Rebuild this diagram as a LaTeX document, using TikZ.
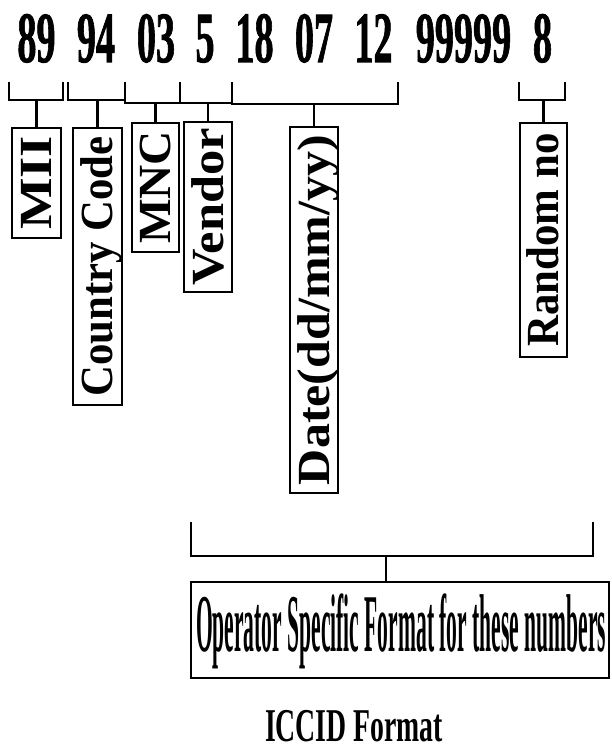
\documentclass[tikz,border=0pt]{standalone}
\usepackage{fontspec}
\setmainfont{Liberation Serif}
\newfontfamily\heavyserif[FakeBold=1.5]{Liberation Serif Bold}
\usepackage{graphicx}
\begin{document}
\begin{tikzpicture}[x=1pt,y=1pt,
  ln/.style={line width=2.6pt},
  num/.style={anchor=base, inner sep=0pt, font=\fontsize{72}{72}\heavyserif},
  field/.style={draw, line width=2.6pt, rotate=90, inner sep=0pt,
    text height=30.4pt, text depth=0pt, font=\fontsize{46}{46}\selectfont\bfseries},
  opbox/.style={draw, line width=2.6pt, inner sep=0pt},
  optext/.style={anchor=base, inner sep=0pt, font=\fontsize{82}{82}\selectfont\bfseries},
  caption/.style={anchor=base, inner sep=0pt, text depth=0pt, font=\fontsize{47}{47}\selectfont\bfseries}]
\newcommand{\cond}[1]{\scalebox{0.53}[1]{#1}}
\fill[white] (0,0) rectangle (611,749);
\useasboundingbox (0,0) rectangle (611,749);

% ICCID digit groups
\node[num] (n89) at (36.5,687) {\cond{89}};
\node[num] (n94) at (96,687) {\cond{94}};
\node[num] (n03) at (156,687) {\cond{03}};
\node[num] (n5) at (205,687) {\cond{5}};
\node[num] (n18) at (254.5,687) {\cond{18}};
\node[num] (n07) at (314,687) {\cond{07}};
\node[num] (n12) at (373.5,687) {\cond{12}};
\node[num] (n99) at (463.5,687) {\cond{99999}};
\node[num] (n8) at (542.5,687) {\cond{8}};

% brackets under the digit groups
\coordinate (b-mii) at (36.5,649);
\coordinate (b-cc) at (97.5,649);
\coordinate (b-mnc) at (155.5,646);
\coordinate (b-ven) at (208,646);
\coordinate (b-date) at (314,645);
\coordinate (b-rnd) at (543.5,649);
\draw[ln] (9,667) |- (b-mii) -| (63,667);
\draw[ln] (68,667) |- (b-cc) -| (125,667);
\draw[ln] (125,667) |- (b-mnc) -| (180,667);
\draw[ln] (180,667) |- (b-ven) -| (232,667);
\draw[ln] (232,667) |- (b-date) -| (398,667);
\draw[ln] (519,667) |- (b-rnd) -| (565,667);

% field boxes
\node[field, minimum width=110pt, minimum height=49pt] (mii) at (36.5,566) {\resizebox{94pt}{\height}{MII}};
\node[field, minimum width=277pt, minimum height=49pt] (cc) at (97.5,482.5) {\resizebox{260pt}{\height}{Country Code}};
\node[field, minimum width=129pt, minimum height=47pt] (mnc) at (155.5,561.5) {\resizebox{113pt}{\height}{MNC}};
\node[field, minimum width=170pt, minimum height=48pt] (ven) at (208,542) {\resizebox{158pt}{\height}{Vendor}};
\node[field, minimum width=366pt, minimum height=48pt] (date) at (314,439) {\resizebox{350pt}{\height}{Date(dd/mm/yy)}};
\node[field, minimum width=234pt, minimum height=47pt] (rnd) at (543.5,509) {\resizebox{213pt}{\height}{Random no}};

\foreach \f/\b in {mii/b-mii, cc/b-cc, mnc/b-mnc, ven/b-ven, date/b-date, rnd/b-rnd}
  \draw[ln] (\b) -- (\f.east);

% operator specific part
\coordinate (b-op) at (386,193);
\draw[ln] (191,227) |- (b-op) -| (593,227);
\node[opbox, minimum width=418pt, minimum height=96pt] (op) at (400,119) {};
\draw[ln] (b-op) -- (b-op |- op.north);
\node[optext] (optxt) at (401,97) {\resizebox{410pt}{\height}{Operator Specific Format for these numbers}};

% title
\node[caption] (title) at (354,8) {\resizebox{178pt}{\height}{ICCID Format}};
\end{tikzpicture}
\end{document}
